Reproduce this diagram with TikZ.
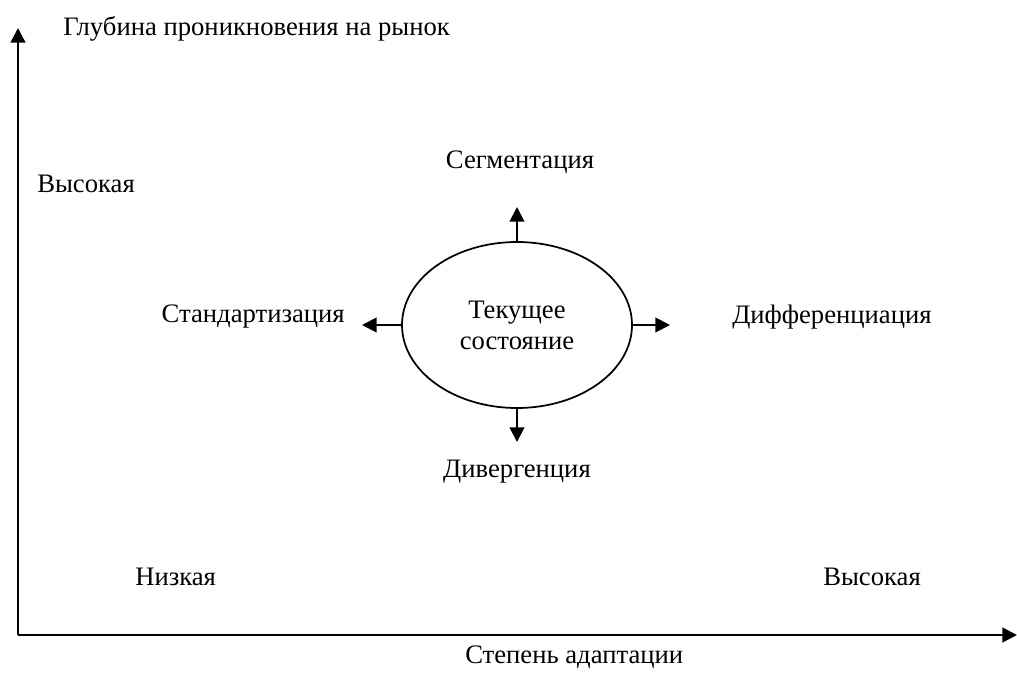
\documentclass[tikz,border=0pt]{standalone}
\usepackage{fontspec}
\setmainfont{Liberation Serif}
\usetikzlibrary{arrows.meta,shapes.geometric}
\begin{document}
\begin{tikzpicture}[x=0.75pt,y=-0.75pt,
  every node/.style={font=\fontsize{20pt}{23.25pt}\selectfont, inner sep=0pt},
  axis/.style={line width=1.8pt, -{Triangle[length=11pt,width=11pt]}},
  arr/.style={line width=1.5pt, -{Triangle[length=11pt,width=11pt]}},
  lbl/.style={anchor=base west}]
\useasboundingbox (0,0) rectangle (1017,675);
\coordinate (o) at (18,635);
\coordinate (ytip) at (18,28);
\coordinate (xtip) at (1017,635);
\draw[axis] (o) -- (ytip);
\draw[axis] (o) -- (xtip);

\node[lbl] (ytitle) at (63,35) {Глубина проникновения на рынок};
\node[lbl] (yhigh) at (37,192) {Высокая};
\node[lbl] (xlow) at (135,585) {Низкая};
\node[lbl] (xhigh) at (823,585) {Высокая};
\node[lbl] (xtitle) at (465,663) {Степень адаптации};

\node[draw, ellipse, line width=1.3pt, minimum width=172.5pt, minimum height=124.5pt, align=center] (cur) at (517,325) {Текущее\\состояние};

\coordinate (tu) at (517,207);
\coordinate (td) at (517,442);
\coordinate (tl) at (362,325);
\coordinate (tr) at (670,325);
\draw[arr] (cur.north) -- (tu);
\draw[arr] (cur.south) -- (td);
\draw[arr] (cur.west) -- (tl);
\draw[arr] (cur.east) -- (tr);

\node[anchor=base] (seg) at (520,168) {Сегментация};
\node[anchor=base] (div) at (517,477) {Дивергенция};
\node[anchor=base east] (std) at (345,322) {Стандартизация};
\node[anchor=base west] (dif) at (732,323) {Дифференциация};
\end{tikzpicture}
\end{document}
